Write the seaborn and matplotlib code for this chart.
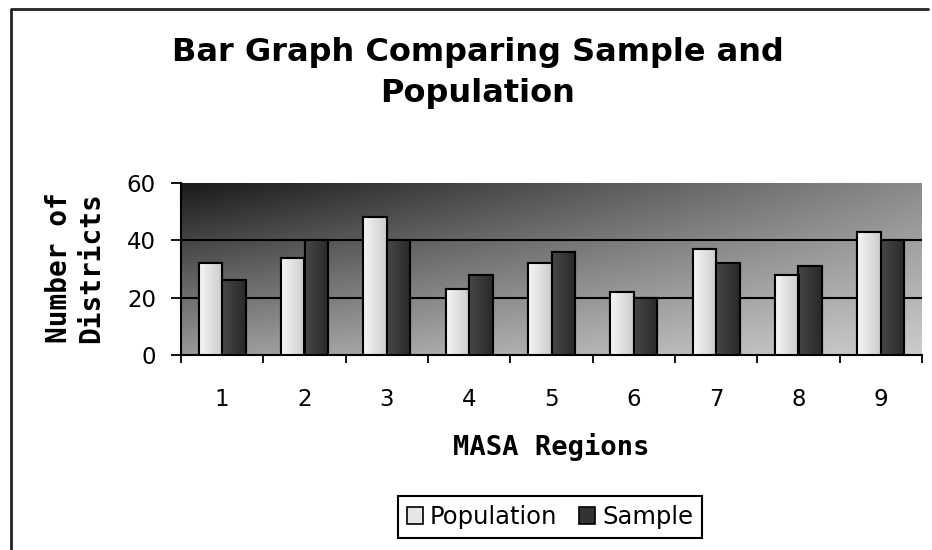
import numpy as np
import pandas as pd
import seaborn as sns
import matplotlib.pyplot as plt
from matplotlib.lines import Line2D
from matplotlib.patches import Rectangle

# data
regions = ['1', '2', '3', '4', '5', '6', '7', '8', '9']
population = [32, 34, 48, 23, 32, 22, 37, 28, 43]
sample = [26, 40, 40, 28, 36, 20, 32, 31, 40]
series = ['Population', 'Sample']
yticks = [0, 20, 40, 60]

df = pd.DataFrame({
    'region': regions * 2,
    'count': population + sample,
    'series': [series[0]] * len(regions) + [series[1]] * len(regions),
})

sns.set_theme(style='white')
plt.rcParams['font.family'] = ['DejaVu Sans']
plt.rcParams['text.color'] = 'black'
plt.rcParams['xtick.color'] = 'black'
plt.rcParams['ytick.color'] = 'black'

W, H = 932, 550
fig = plt.figure(figsize=(W / 100, H / 100), dpi=100)
ax = fig.add_axes([181 / W, 1 - 355 / H, 741 / W, 172 / H])

colors = {'Population': '#e6e6e6', 'Sample': '#333333'}
sns.barplot(data=df, x='region', y='count', hue='series', palette=colors,
            width=0.572, gap=0, saturation=1, edgecolor='black', linewidth=1.5,
            ax=ax, zorder=3, legend=False)

# gradient fill in each bar
for p in list(ax.patches):
    x, w, h = p.get_x(), p.get_width(), p.get_height()
    if h <= 0:
        continue
    light = p.get_facecolor()[0] > 0.5
    lo, hi = (0.96, 0.80) if light else (0.28, 0.16)
    grad = np.linspace(lo, hi, 50).reshape(1, -1)
    im = ax.imshow(grad, cmap='gray', vmin=0, vmax=1, extent=[x, x + w, 0, h],
                   aspect='auto', zorder=3.5, interpolation='bilinear')
    im.set_clip_path(p)
    ax.add_patch(Rectangle((x, 0), w, h, fill=False, edgecolor='black',
                           linewidth=1.5, zorder=4))

# diagonal dark-to-light plot background
gx, gy = np.meshgrid(np.linspace(0, 1, 200), np.linspace(0, 1, 200))
tl, tr, bl, br = 0.10, 0.54, 0.60, 0.80
bg = tl * (1 - gx) * (1 - gy) + tr * gx * (1 - gy) + bl * (1 - gx) * gy + br * gx * gy
ax.imshow(bg, cmap='gray', vmin=0, vmax=1, extent=[-0.5, 8.5, 0, 60],
          aspect='auto', origin='upper', zorder=0, interpolation='bilinear')

for v in yticks[1:-1]:
    ax.axhline(v, color='black', lw=1.5, zorder=1)

ax.set_xlim(-0.5, len(regions) - 0.5)
ax.set_ylim(0, 60)
ax.set_yticks(yticks)
ax.set_xticks(range(len(regions)))
ax.set_xticklabels(regions)
ax.set_xticks(np.arange(-0.5, len(regions), 1), minor=True)
ax.tick_params(axis='y', left=True, length=7, width=1.3, direction='out',
               labelsize=16.5, pad=11, color='black')
ax.tick_params(axis='x', which='major', bottom=True, length=0, labelsize=16.5, pad=24)
ax.tick_params(axis='x', which='minor', bottom=True, length=6, width=1.3,
               direction='out', color='black')
ax.set_xlabel('')
ax.set_ylabel('')
for s in ['top', 'right']:
    ax.spines[s].set_visible(False)
for s in ['left', 'bottom']:
    ax.spines[s].set_color('black')
    ax.spines[s].set_linewidth(1.5)

fig.text(478 / W, 1 - 73 / H, 'Bar Graph Comparing Sample and\nPopulation',
         ha='center', va='center', fontsize=23, fontweight='bold', linespacing=1.45)
fig.text(75 / W, 1 - 268 / H, 'Number of\nDistricts', rotation=90,
         ha='center', va='center', multialignment='center', fontsize=20,
         fontweight='bold', family='DejaVu Sans Mono', linespacing=1.2)
fig.text(551 / W, 1 - 447 / H, 'MASA Regions', ha='center', va='center',
         fontsize=19.5, fontweight='bold', family='DejaVu Sans Mono')

handles = [Rectangle((0, 0), 1, 1, facecolor=colors[s], edgecolor='black', lw=1.2)
           for s in series]
leg = fig.legend(handles, series, loc='center', bbox_to_anchor=(550 / W, 1 - 517 / H),
                 ncol=2, frameon=True, fancybox=False, edgecolor='black', framealpha=1,
                 handlelength=0.65, handleheight=0.65, handletextpad=0.3,
                 columnspacing=0.9, borderpad=0.35, fontsize=17.5)
leg.get_frame().set_linewidth(1.5)

# chart frame (left and top edges)
fig.add_artist(Line2D([11 / W, 11 / W, 928 / W], [0, 1 - 9 / H, 1 - 9 / H],
                      color='#222222', lw=2, transform=fig.transFigure))

fig.savefig('out.png', dpi=100)
